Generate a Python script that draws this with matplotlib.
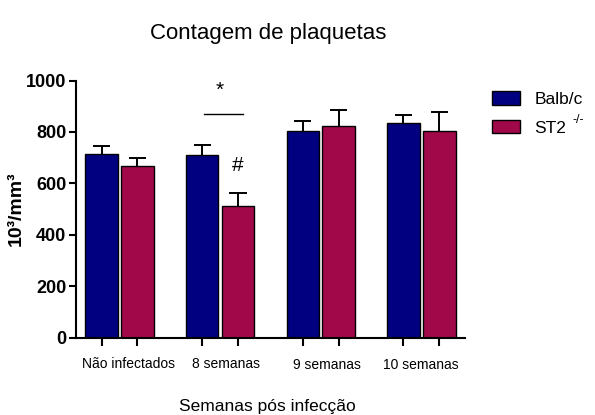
import numpy as np
import matplotlib
matplotlib.use("Agg")
import matplotlib.pyplot as plt
from matplotlib.patches import Patch

# data
groups = ["Não infectados", "8 semanas", "9 semanas", "10 semanas"]
balb_mean = [713, 711, 805, 836]
balb_err = [33, 38, 37, 29]
st2_mean = [666, 512, 823, 803]
st2_err = [31, 50, 63, 76]
yticks = [0, 200, 400, 600, 800, 1000]

plt.rcParams['font.family'] = ['Liberation Sans', 'DejaVu Sans']

blue = '#000080'
red = '#A0084A'

fig = plt.figure(figsize=(5.95, 4.15), dpi=100)
ax = fig.add_axes([0.128, 0.186, 0.653, 0.62])

x = np.arange(len(groups))
w = 0.324
off = 0.178
cap = 0.085

#bars, then the upper half of the error bars only
for pos, mean, err, col in [(x - off, balb_mean, balb_err, blue), (x + off, st2_mean, st2_err, red)]:
    mean = np.array(mean)
    top = mean + np.array(err)
    ax.bar(pos, mean, w, color=col, edgecolor='black', linewidth=1.0, zorder=2)
    ax.vlines(pos, mean, top, color='black', linewidth=1.4, zorder=1)
    ax.hlines(top, pos - cap, pos + cap, color='black', linewidth=1.4, zorder=1)

ax.set_xlim(-0.43, 3.43)
ax.set_ylim(0, 1000)
ax.set_yticks(yticks)
ax.set_yticklabels([str(v) for v in yticks], fontsize=13, fontweight='bold')

ax.set_xticks(np.concatenate([x - off, x + off]))
ax.set_xticklabels([])
for i, g in enumerate(groups):
    dy = -0.1 if i < 2 else -0.105
    ax.text(x[i] + [0.09, 0.06, 0.06, -0.01][i], dy, g, transform=ax.get_xaxis_transform(),
            ha='center', va='center', fontsize=10)

for s in ['top', 'right']:
    ax.spines[s].set_visible(False)
for s in ['left', 'bottom']:
    ax.spines[s].set_linewidth(1.5)
ax.tick_params(axis='both', width=1.5, length=5, direction='out')
ax.tick_params(axis='y', pad=2)
ax.tick_params(axis='x', length=6)

ax.set_ylabel('10³/mm³', fontsize=14, fontweight='bold', labelpad=1)

# significance marks
ax.plot([1 - 0.16, 1 + 0.23], [870, 870], color='black', linewidth=1.0)
ax.text(1.0, 960, '*', ha='center', va='center', fontsize=15)
ax.text(1.17, 670, '#', ha='center', va='center', fontsize=15)

fig.text(0.45, 0.92, 'Contagem de plaquetas', ha='center', va='center', fontsize=16)
fig.text(0.45, 0.02, 'Semanas pós infecção', ha='center', va='center', fontsize=12.5)

handles = [Patch(facecolor=blue, edgecolor='black'), Patch(facecolor=red, edgecolor='black')]
fig.legend(handles, ['Balb/c', 'ST2'], loc='upper left', bbox_to_anchor=(0.827, 0.78),
           frameon=False, fontsize=12.5, handlelength=1.6, handleheight=0.8, labelspacing=0.75,
           handletextpad=0.85, borderpad=0, borderaxespad=0)
# superscript of the knockout label
fig.text(0.963, 0.712, '-/-', ha='left', va='center', fontsize=9)

fig.savefig('out.png', dpi=100)
